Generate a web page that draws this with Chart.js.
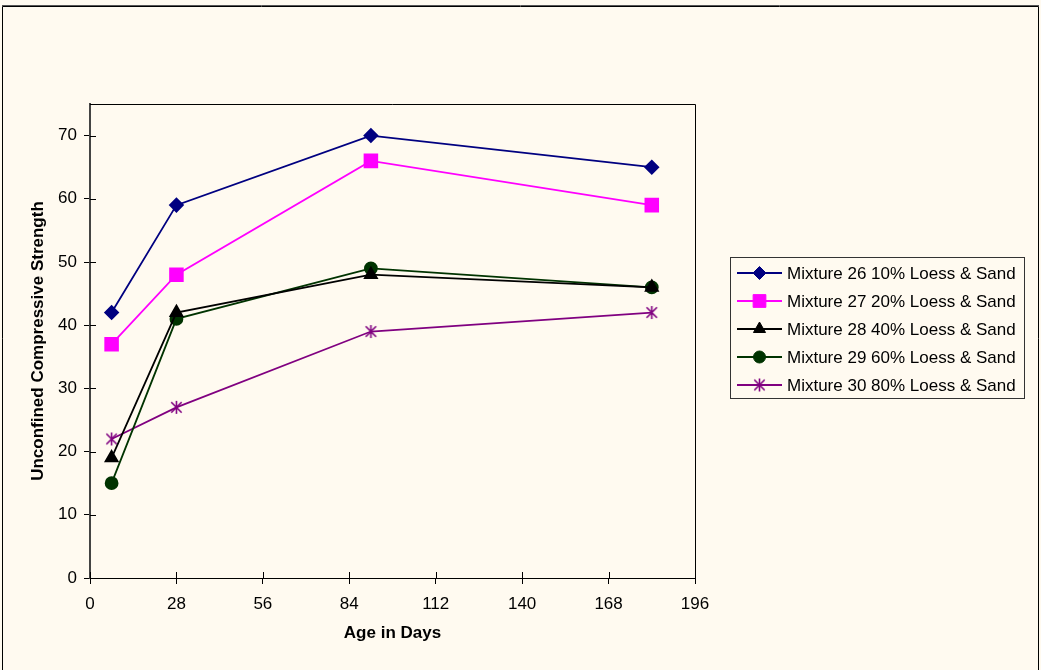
<!DOCTYPE html>
<html>
<head>
<meta charset="utf-8">
<script src="https://cdn.jsdelivr.net/npm/chart.js@4.4.1/dist/chart.umd.min.js"></script>
<style>
  html, body { margin: 0; padding: 0; background: #FFFAF0; }
  #wrap { width: 1041px; height: 670px; }
</style>
</head>
<body>
<div id="wrap"><canvas id="c" width="1041" height="670"></canvas></div>
<script>
// ---- data ----
const ageDays = [7, 28, 91, 182];
const seriesNames = [
  "Mixture 26 10% Loess & Sand",
  "Mixture 27 20% Loess & Sand",
  "Mixture 28 40% Loess & Sand",
  "Mixture 29 60% Loess & Sand",
  "Mixture 30 80% Loess & Sand"
];
const mix26 = [42, 59, 70, 65];
const mix27 = [37, 48, 66, 59];
const mix28 = [19, 42, 48, 46];
const mix29 = [15, 41, 49, 46];
const mix30 = [22, 27, 39, 42];
const xTickValues = [0, 28, 56, 84, 112, 140, 168, 196];
const yTickValues = [0, 10, 20, 30, 40, 50, 60, 70];
const xTitle = "Age in Days";
const yTitle = "Unconfined Compressive Strength";

const FONT = "Arial, 'Liberation Sans', sans-serif";
const FS = 17;

function asterisk(color, size) {
  const c = document.createElement('canvas');
  c.width = size; c.height = size;
  const g = c.getContext('2d');
  g.strokeStyle = color; g.lineWidth = 1.6;
  const m = size / 2, r = size / 2 - 1;
  g.beginPath();
  g.moveTo(m, m - r); g.lineTo(m, m + r);
  const d = r * 0.8;
  g.moveTo(m - d, m - d); g.lineTo(m + d, m + d);
  g.moveTo(m + d, m - d); g.lineTo(m - d, m + d);
  g.stroke();
  return c;
}

const styles = [
  { color: '#000080', point: 'rectRot', radius: 6.5 },
  { color: '#FF00FF', point: 'rect', radius: 9 },
  { color: '#000000', point: 'triangle', radius: 7 },
  { color: '#003300', point: 'circle', radius: 6 },
  { color: '#800080', point: asterisk('#800080', 15), radius: 7 }
];
const values = [mix26, mix27, mix28, mix29, mix30];

const datasets = values.map((v, i) => ({
  label: seriesNames[i],
  data: v.map((y, j) => ({ x: ageDays[j], y: y })),
  borderColor: styles[i].color,
  backgroundColor: styles[i].color,
  pointBackgroundColor: styles[i].color,
  pointBorderColor: styles[i].color,
  pointStyle: styles[i].point,
  pointRadius: styles[i].radius,
  pointHoverRadius: styles[i].radius,
  borderWidth: 1.8,
  tension: 0
}));

const decor = {
  id: 'decor',
  beforeDraw(chart) {
    const ctx = chart.ctx;
    ctx.save();
    ctx.fillStyle = '#FFFAF0';
    ctx.fillRect(0, 0, chart.width, chart.height);
    ctx.restore();
  },
  afterDraw(chart) {
    const ctx = chart.ctx;
    const a = chart.chartArea;
    const xs = chart.scales.x, ys = chart.scales.y;
    ctx.save();
    // outer frame
    ctx.strokeStyle = '#000000';
    ctx.lineWidth = 1;
    ctx.beginPath();
    ctx.moveTo(2.5, 671); ctx.lineTo(2.5, 6.5); ctx.lineTo(1038.5, 6.5); ctx.lineTo(1038.5, 671);
    ctx.stroke();
    ctx.strokeStyle = '#555555';
    ctx.beginPath(); ctx.moveTo(2, 5.5); ctx.lineTo(1039, 5.5); ctx.stroke();
    // plot border top/right
    ctx.strokeStyle = '#000000';
    ctx.lineWidth = 1;
    ctx.beginPath();
    ctx.moveTo(a.left, Math.round(a.top) + 0.5);
    ctx.lineTo(Math.round(a.right) + 0.5, Math.round(a.top) + 0.5);
    ctx.lineTo(Math.round(a.right) + 0.5, a.bottom);
    ctx.stroke();
    // inner tick halves (cross ticks)
    ctx.strokeStyle = '#000000';
    ctx.beginPath();
    xs.ticks.forEach(t => {
      const px = Math.round(xs.getPixelForValue(t.value)) + 0.5;
      ctx.moveTo(px, a.bottom); ctx.lineTo(px, a.bottom - 6);
    });
    ys.ticks.forEach(t => {
      const py = Math.round(ys.getPixelForValue(t.value)) + 0.5;
      ctx.moveTo(a.left, py); ctx.lineTo(a.left + 6, py);
    });
    ctx.stroke();
    // legend
    const lx = 730.5, ly = 257.5, lw = 294, lh = 141;
    ctx.fillStyle = '#FFFAF0';
    ctx.fillRect(lx, ly, lw, lh);
    ctx.strokeStyle = '#333333';
    ctx.lineWidth = 1;
    ctx.strokeRect(lx, ly, lw, lh);
    ctx.font = FS + 'px ' + FONT;
    ctx.textBaseline = 'middle';
    ctx.textAlign = 'left';
    chart.data.datasets.forEach((ds, i) => {
      const y = 273 + i * 28;
      ctx.strokeStyle = ds.borderColor;
      ctx.lineWidth = 1.8;
      ctx.beginPath(); ctx.moveTo(737, y); ctx.lineTo(782, y); ctx.stroke();
      ctx.fillStyle = ds.borderColor;
      ctx.strokeStyle = ds.borderColor;
      ctx.lineWidth = 1;
      Chart.helpers.drawPoint(ctx, {
        pointStyle: ds.pointStyle, radius: ds.pointRadius, rotation: 0, borderWidth: 1
      }, 759.5, y);
      ctx.fillStyle = '#000000';
      ctx.fillText(ds.label, 787, y + 1);
    });
    ctx.restore();
  }
};

new Chart(document.getElementById('c'), {
  type: 'line',
  data: { datasets: datasets },
  plugins: [decor],
  options: {
    responsive: false,
    animation: false,
    devicePixelRatio: 1,
    layout: { padding: { left: 0, top: 104, right: 346, bottom: 0 } },
    plugins: {
      legend: { display: false },
      tooltip: { enabled: false }
    },
    scales: {
      x: {
        type: 'linear',
        min: 0, max: 196,
        afterBuildTicks: s => { s.ticks = xTickValues.map(v => ({ value: v })); },
        afterFit: s => { s.height = 92; },
        grid: { drawOnChartArea: false, drawTicks: true, tickLength: 6, color: '#000000', tickColor: '#000000' },
        border: { display: true, color: '#000000', width: 1 },
        ticks: { color: '#000000', font: { family: FONT, size: FS }, padding: 10, maxRotation: 0 },
        title: { display: true, text: xTitle, color: '#000000', font: { family: FONT, size: FS, weight: 'bold' }, padding: { top: 0, bottom: 26 } }
      },
      y: {
        min: 0, max: 75,
        afterBuildTicks: s => { s.ticks = yTickValues.map(v => ({ value: v })); },
        afterFit: s => { s.width = 90; },
        grid: { drawOnChartArea: false, drawTicks: true, tickLength: 6, color: '#000000', tickColor: '#000000' },
        border: { display: true, color: '#444444', width: 2 },
        ticks: { color: '#000000', font: { family: FONT, size: FS }, padding: 7 },
        title: { display: true, text: yTitle, color: '#000000', font: { family: FONT, size: FS, weight: 'bold' }, padding: { top: 28, bottom: 0 } }
      }
    }
  }
});
</script>
</body>
</html>
